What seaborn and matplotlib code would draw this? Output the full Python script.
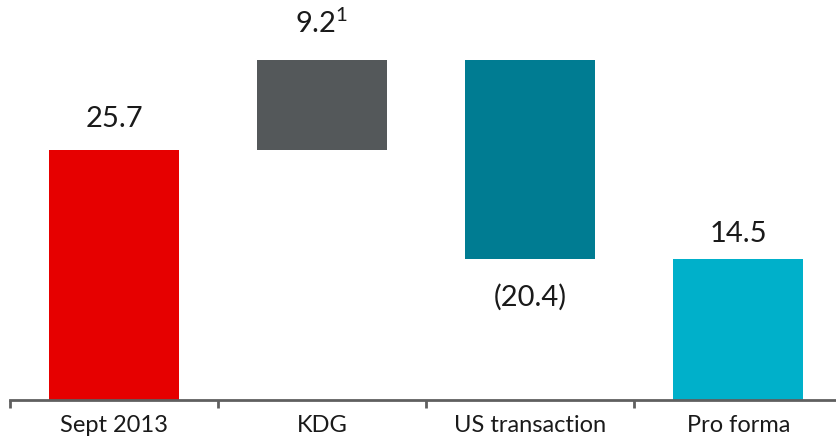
import numpy as np
import matplotlib
matplotlib.use("Agg")
import matplotlib.pyplot as plt
import seaborn as sns

# Net debt bridge (EUR bn)
categories = ["Sept 2013", "KDG", "US transaction", "Pro forma"]
changes = [25.7, 9.2, -20.4, 14.5]
is_total = [True, False, False, True]
value_labels = ["25.7", "9.2$^{1}$", "(20.4)", "14.5"]
bar_colors = ["#E60000", "#54585A", "#007C92", "#00B0CA"]

# label placement: offset in points from the bar end, relative to the text baseline
label_offsets = [16.8, 20.0, -33.8, 12.2]

sns.set_theme(style="white")
plt.rcParams["font.family"] = ["Lato", "DejaVu Sans"]
plt.rcParams["mathtext.fontset"] = "custom"
plt.rcParams["mathtext.rm"] = "Lato"
plt.rcParams["mathtext.it"] = "Lato"
plt.rcParams["mathtext.bf"] = "Lato:bold"

# floating bars: totals start at zero, changes start at the running total
bottoms = []
running = 0.0
for v, tot in zip(changes, is_total):
    if tot:
        bottoms.append(0.0)
        running = v
    else:
        bottoms.append(running)
        running += v

fig = plt.figure(figsize=(8.36, 4.45), dpi=100)
ax = fig.add_axes([10 / 836, 45 / 445, 1 - 10 / 836, 400 / 445])

sns.barplot(x=categories, y=changes, bottom=bottoms, width=0.625,
            color=bar_colors[0], saturation=1, ax=ax)
for patch, c in zip(ax.patches, bar_colors):
    patch.set_facecolor(c)
    patch.set_edgecolor("none")
    patch.set_linewidth(0)

for i, (v, b, txt, off) in enumerate(zip(changes, bottoms, value_labels, label_offsets)):
    end = b + v
    ax.annotate(txt, xy=(i, end), xytext=(0, off), textcoords="offset points",
                ha="center", va="baseline", fontsize=21, color="#1a1a1a")

ax.set_xlim(-0.5, 3.47)
ax.set_ylim(0, 41.1)

for side in ["top", "right", "left"]:
    ax.spines[side].set_visible(False)
ax.spines["bottom"].set_color("#5f5f5f")
ax.spines["bottom"].set_linewidth(2)

ax.set_yticks([])
ax.set_xticks(range(len(categories)))
ax.set_xticklabels(categories, fontsize=17, color="#1a1a1a")
ax.set_xticks(np.arange(len(categories)) - 0.5, minor=True)
ax.tick_params(axis="x", which="major", length=0, pad=11)
ax.tick_params(axis="x", which="minor", length=5.5, width=2, color="#5f5f5f",
               direction="out", bottom=True)
ax.set_xlabel("")
ax.set_ylabel("")

fig.savefig("out.png", dpi=100, facecolor="white")
